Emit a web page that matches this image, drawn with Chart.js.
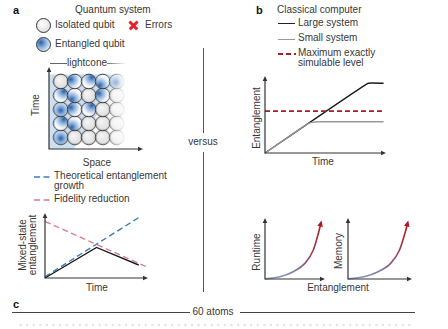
<!DOCTYPE html>
<html>
<head>
<meta charset="utf-8">
<script src="https://cdn.jsdelivr.net/npm/chart.js@4"></script>
<style>
  body { margin:0; width:448px; height:329px; background:#fff; position:relative; overflow:hidden; }
  canvas, svg { position:absolute; }
  .t { position:absolute; font:10px "Liberation Sans", Arial, sans-serif; color:#383838; white-space:nowrap; line-height:12px; }
  .c { transform:translate(-50%,-50%); }
  .l { transform:translateY(-50%); }
  .r { transform:translate(-50%,-50%) rotate(-90deg); }
  .b { font-weight:bold; font-size:11px; color:#111; }
  .ln { position:absolute; height:0; }
  .dot { position:absolute; width:13px; height:13px; border:1px solid #333; border-radius:50%; }
  .xbar { position:absolute; width:11px; height:2.5px; background:#e3232c; }
</style>
</head>
<body>

<!-- panel a -->
<div class="t b l" style="left:13px;top:10px">a</div>
<div class="t l" style="left:75px;top:10px">Quantum system</div>
<div class="dot" style="left:36px;top:18px;background:radial-gradient(circle at 40% 35%,#fff,#e2e2e2 70%)"></div>
<div class="t l" style="left:55px;top:25px">Isolated qubit</div>
<div class="xbar" style="left:128px;top:23.5px;transform:rotate(45deg)"></div>
<div class="xbar" style="left:128px;top:23.5px;transform:rotate(-45deg)"></div>
<div class="t l" style="left:145px;top:25px">Errors</div>
<div class="dot" style="left:36px;top:37px;background:radial-gradient(circle at 30% 35%,#2a5ca8,#8cb1dd 40%,#f2f6fb 85%)"></div>
<div class="t l" style="left:55px;top:44px">Entangled qubit</div>

<div class="ln" style="left:50px;top:63px;width:17px;border-top:1px solid #666"></div>
<div class="t c" style="left:87px;top:63px">lightcone</div>
<div class="ln" style="left:107px;top:63px;width:20px;border-top:1px solid #666"></div>
<div class="t r" style="left:36px;top:105px">Time</div>
<div class="t c" style="left:97px;top:163px">Space</div>

<svg width="20" height="4" style="left:33px;top:175px"><line x1="1" y1="2" x2="19" y2="2" stroke="#3b7cc4" stroke-width="1.5" stroke-dasharray="6 3.5"/></svg>
<div class="t l" style="left:54px;top:176px">Theoretical entanglement</div>
<div class="t l" style="left:54px;top:186px">growth</div>
<svg width="20" height="4" style="left:33px;top:198px"><line x1="1" y1="2" x2="19" y2="2" stroke="#dc7590" stroke-width="1.5" stroke-dasharray="6 3.5"/></svg>
<div class="t l" style="left:54px;top:199px">Fidelity reduction</div>
<div class="t r" style="left:23px;top:245px">Mixed-state</div>
<div class="t r" style="left:33px;top:245px">entanglement</div>
<div class="t c" style="left:97px;top:288px">Time</div>

<!-- divider -->
<div style="position:absolute;left:203px;top:48px;width:1px;height:85px;background:#555"></div>
<div class="t c" style="left:203px;top:142px">versus</div>
<div style="position:absolute;left:203px;top:152px;width:1px;height:140px;background:#555"></div>

<!-- panel b -->
<div class="t b l" style="left:256px;top:10px">b</div>
<div class="t l" style="left:277px;top:10px">Classical computer</div>
<div class="ln" style="left:278px;top:23px;width:17px;border-top:1.5px solid #222"></div>
<div class="t l" style="left:298px;top:23px">Large system</div>
<div class="ln" style="left:278px;top:39px;width:17px;border-top:1.5px solid #999"></div>
<div class="t l" style="left:298px;top:38px">Small system</div>
<svg width="20" height="4" style="left:277px;top:52px"><line x1="1" y1="2" x2="19" y2="2" stroke="#a3202b" stroke-width="2" stroke-dasharray="5 3"/></svg>
<div class="t l" style="left:298px;top:53px">Maximum exactly</div>
<div class="t l" style="left:298px;top:63px">simulable level</div>
<div class="t r" style="left:257px;top:118px">Entanglement</div>
<div class="t c" style="left:323px;top:162px">Time</div>
<div class="t r" style="left:257px;top:252px">Runtime</div>
<div class="t r" style="left:339px;top:251px">Memory</div>
<div class="t c" style="left:338px;top:288px">Entanglement</div>

<!-- panel c -->
<div class="t b l" style="left:13px;top:304px">c</div>
<div class="ln" style="left:12px;top:312px;width:178px;border-top:1px solid #444"></div>
<div class="t c" style="left:213px;top:312px">60 atoms</div>
<div class="ln" style="left:240px;top:312px;width:175px;border-top:1px solid #444"></div>

<canvas id="qubits" width="112" height="100" style="left:40px;top:58px"></canvas>
<canvas id="mixed" width="115" height="78" style="left:38px;top:206px"></canvas>
<canvas id="classical" width="132" height="90" style="left:258px;top:70px"></canvas>
<canvas id="runtime" width="72" height="72" style="left:258px;top:212px"></canvas>
<canvas id="memory" width="76" height="72" style="left:341px;top:212px"></canvas>
<canvas id="atoms" width="410" height="8" style="left:10px;top:321px"></canvas>

<script>
// qubit grid, rows listed bottom (t=1) to top (t=5); 1 = entangled
const qubitCols = [1, 2, 3, 4, 5];
const qubitRows = [1, 2, 3, 4, 5];
const entangled = [
  [1, 0, 0, 0, 0],
  [1, 1, 0, 0, 0],
  [1, 1, 1, 0, 0],
  [1, 1, 0, 1, 0],
  [0, 1, 1, 1, 1]
];
const errorCol = [1, 3];
const errorRow = [4.5, 3.5];

// mixed-state entanglement vs time
const mixTime = [0, 5.0, 9.1];
const mixEnt = [0, 4.7, 2.0];
const growthTime = [0, 9.2];
const growthEnt = [0.2, 9.4];
const fidelityTime = [0, 9.9];
const fidelityEnt = [8.7, 1.7];

// classical simulation
const largeTime = [0, 8.5, 9.8];
const largeEnt = [0, 9.05, 9.05];
const smallTime = [0, 3.6, 4.3, 9.8];
const smallEnt = [0, 3.83, 4.05, 4.05];
const maxLevelTime = [0, 9.8];
const maxLevel = 5.45;

// runtime / memory cost against entanglement
const costEnt = [0, 2.5, 4.7, 6.7, 8.05, 8.9, 9.3];
const costVal = [0, 0.38, 1.2, 2.6, 4.75, 7.5, 9.1];

// atom indices along the chain
const atomIndex = [1,2,3,4,5,6,7,8,9,10,11,12,13,14,15,16,17,18,19,20,
  21,22,23,24,25,26,27,28,29,30,31,32,33,34,35,36,37,38,39,40,
  41,42,43,44,45,46,47,48,49,50,51,52,53,54,55,56,57,58,59,60];

const pts = (xs, ys) => xs.map((x, i) => ({x: x, y: Array.isArray(ys) ? ys[i] : ys}));

function arrowHead(ctx, x, y, dx, dy, len, half) {
  const px = -dy, py = dx;
  ctx.beginPath();
  ctx.moveTo(x, y);
  ctx.lineTo(x - dx * len + px * half, y - dy * len + py * half);
  ctx.lineTo(x - dx * len - px * half, y - dy * len - py * half);
  ctx.closePath();
  ctx.fill();
}

// plain axes with arrow tips along left and bottom of the chart area
const arrowAxes = {
  id: 'arrowAxes',
  afterDraw(chart) {
    const ctx = chart.ctx, a = chart.chartArea;
    ctx.save();
    ctx.strokeStyle = '#333';
    ctx.fillStyle = '#333';
    ctx.lineWidth = 1.2;
    ctx.beginPath();
    ctx.moveTo(a.left, a.top + 3);
    ctx.lineTo(a.left, a.bottom);
    ctx.lineTo(a.right - 3, a.bottom);
    ctx.stroke();
    arrowHead(ctx, a.left, a.top, 0, -1, 5, 2.3);
    arrowHead(ctx, a.right, a.bottom, 1, 0, 5, 2.3);
    ctx.restore();
  }
};

function baseOptions(xmax, ymin, ymax, pad, xmin) {
  return {
    responsive: false,
    animation: false,
    devicePixelRatio: 1,
    layout: { padding: pad },
    events: [],
    scales: {
      x: { type: 'linear', display: false, min: xmin || 0, max: xmax },
      y: { type: 'linear', display: false, min: ymin, max: ymax }
    },
    plugins: { legend: { display: false }, tooltip: { enabled: false } }
  };
}

// ---- qubit grid ----
const qubitData = [];
qubitRows.forEach((r, ri) => qubitCols.forEach((c, ci) => {
  qubitData.push({x: c, y: r, ent: entangled[ri][ci]});
}));

// small sprites for the qubit markers; entangled ones get a shaded blue spot
function qubitSprite(ent, spot) {
  const cv = document.createElement('canvas');
  cv.width = 17; cv.height = 17;
  const c = cv.getContext('2d');
  let g;
  if (ent) {
    const sx = 8.5 + spot[0], sy = 8.5 + spot[1];
    g = c.createRadialGradient(sx, sy, 0, sx, sy, 11);
    g.addColorStop(0, '#2a5ca8');
    g.addColorStop(0.35, '#86aedb');
    g.addColorStop(0.8, '#f0f5fb');
    g.addColorStop(1, '#ffffff');
  } else {
    g = c.createRadialGradient(6.5, 6.5, 0, 8.5, 8.5, 8);
    g.addColorStop(0, '#f7f7f7');
    g.addColorStop(1, '#dcdcdc');
  }
  c.fillStyle = g;
  c.beginPath();
  c.arc(8.5, 8.5, 7.3, 0, Math.PI * 2);
  c.fill();
  c.strokeStyle = '#333';
  c.lineWidth = 1;
  c.stroke();
  return cv;
}
const isolatedSprite = qubitSprite(0);
const entangledSprites = [[-4, -2], [0, 1], [-3, 4], [3, -4]].map(s => qubitSprite(1, s));

function qubitStyle(ctx) {
  const raw = ctx.raw;
  if (!raw || !raw.ent) return isolatedSprite;
  return entangledSprites[(raw.x * 3 + raw.y * 2) % 4];
}

const lightcone = {
  id: 'lightcone',
  beforeDatasetsDraw(chart) {
    const ctx = chart.ctx, xs = chart.scales.x, ys = chart.scales.y;
    const poly = [[0.16, 0.16], [1.9, 0.16], [5.6, 5.5], [0.16, 5.5]];
    ctx.save();
    ctx.fillStyle = '#cde0f2';
    ctx.beginPath();
    poly.forEach((p, i) => {
      const x = xs.getPixelForValue(p[0]), y = ys.getPixelForValue(p[1]);
      i ? ctx.lineTo(x, y) : ctx.moveTo(x, y);
    });
    ctx.closePath();
    ctx.fill();
    ctx.restore();
  },
  afterDatasetsDraw(chart) {
    // fade out the right-hand column
    const ctx = chart.ctx;
    const g = ctx.createLinearGradient(66, 0, 86, 0);
    g.addColorStop(0, 'rgba(255,255,255,0)');
    g.addColorStop(1, 'rgba(255,255,255,1)');
    ctx.save();
    ctx.fillStyle = g;
    ctx.fillRect(66, 0, 46, 94);
    ctx.restore();
  }
};

new Chart(document.getElementById('qubits'), {
  type: 'scatter',
  data: {
    datasets: [
      {
        data: qubitData,
        pointStyle: qubitStyle,
        pointRadius: 8,
        clip: false
      },
      {
        data: pts(errorCol, errorRow),
        pointStyle: 'crossRot',
        pointRadius: 5,
        pointBorderWidth: 2.6,
        pointBorderColor: '#e3232c',
        clip: false
      }
    ]
  },
  options: baseOptions(6.87, 0.16, 6.03, {left: 4, top: 4, right: 4, bottom: 5}, 0.16),
  plugins: [lightcone, arrowAxes]
});

// ---- mixed-state entanglement ----
new Chart(document.getElementById('mixed'), {
  type: 'scatter',
  data: {
    datasets: [
      { data: pts(fidelityTime, fidelityEnt), showLine: true, borderColor: '#dc7590', borderWidth: 1.3, borderDash: [6, 3.5], pointRadius: 0, clip: false },
      { data: pts(mixTime, mixEnt), showLine: true, borderColor: '#1a1a1a', borderWidth: 1.4, pointRadius: 0, clip: false },
      { data: pts(growthTime, growthEnt), showLine: true, borderColor: '#3b7cc4', borderWidth: 1.4, borderDash: [6, 3.5], pointRadius: 0, clip: false }
    ]
  },
  options: baseOptions(10, 0, 10, {left: 7, top: 7, right: 5, bottom: 6}),
  plugins: [arrowAxes]
});

// ---- classical simulation ----
new Chart(document.getElementById('classical'), {
  type: 'scatter',
  data: {
    datasets: [
      { data: pts(smallTime, smallEnt), showLine: true, borderColor: '#9a9a9a', borderWidth: 1.4, pointRadius: 0, tension: 0.15, clip: false },
      { data: pts(maxLevelTime, maxLevel), showLine: true, borderColor: '#a3202b', borderWidth: 1.8, borderDash: [5, 3], pointRadius: 0, clip: false },
      { data: pts(largeTime, largeEnt), showLine: true, borderColor: '#1a1a1a', borderWidth: 1.4, pointRadius: 0, tension: 0.1, clip: false }
    ]
  },
  options: baseOptions(10, 0, 10, {left: 7, top: 6, right: 4, bottom: 7}),
  plugins: [arrowAxes]
});

// ---- cost curves ----
function costGradient(ctx) {
  const a = ctx.chart.chartArea;
  if (!a) return '#888';
  const g = ctx.chart.ctx.createLinearGradient(a.left, 0, a.right, 0);
  g.addColorStop(0, '#8ea3c2');
  g.addColorStop(0.5, '#7c7fa6');
  g.addColorStop(0.95, '#b3141e');
  return g;
}

const curveTip = {
  id: 'curveTip',
  afterDatasetsDraw(chart) {
    const d = chart.getDatasetMeta(0).data;
    const p = d[d.length - 1], q = d[d.length - 2];
    let dx = p.x - q.x, dy = p.y - q.y;
    const n = Math.hypot(dx, dy);
    dx /= n; dy /= n;
    chart.ctx.save();
    chart.ctx.fillStyle = '#b3141e';
    arrowHead(chart.ctx, p.x + dx * 3, p.y + dy * 3, dx, dy, 6, 2.8);
    chart.ctx.restore();
  }
};

['runtime', 'memory'].forEach((id) => {
  new Chart(document.getElementById(id), {
    type: 'scatter',
    data: {
      datasets: [{
        data: pts(costEnt, costVal),
        showLine: true,
        borderColor: costGradient,
        borderWidth: 1.6,
        cubicInterpolationMode: 'monotone',
        pointRadius: 0,
        clip: false
      }]
    },
    options: baseOptions(10, 0, 10, {left: 7, top: 6, right: 5, bottom: 5}),
    plugins: [curveTip, arrowAxes]
  });
});

// ---- atom chain ----
new Chart(document.getElementById('atoms'), {
  type: 'scatter',
  data: {
    datasets: [{
      data: pts(atomIndex, 0),
      pointRadius: 1.2,
      pointBorderWidth: 0,
      pointBackgroundColor: 'rgba(130,140,210,0.25)',
      clip: false
    }]
  },
  options: baseOptions(61, -1, 1, 0, 0)
});
</script>
</body>
</html>
